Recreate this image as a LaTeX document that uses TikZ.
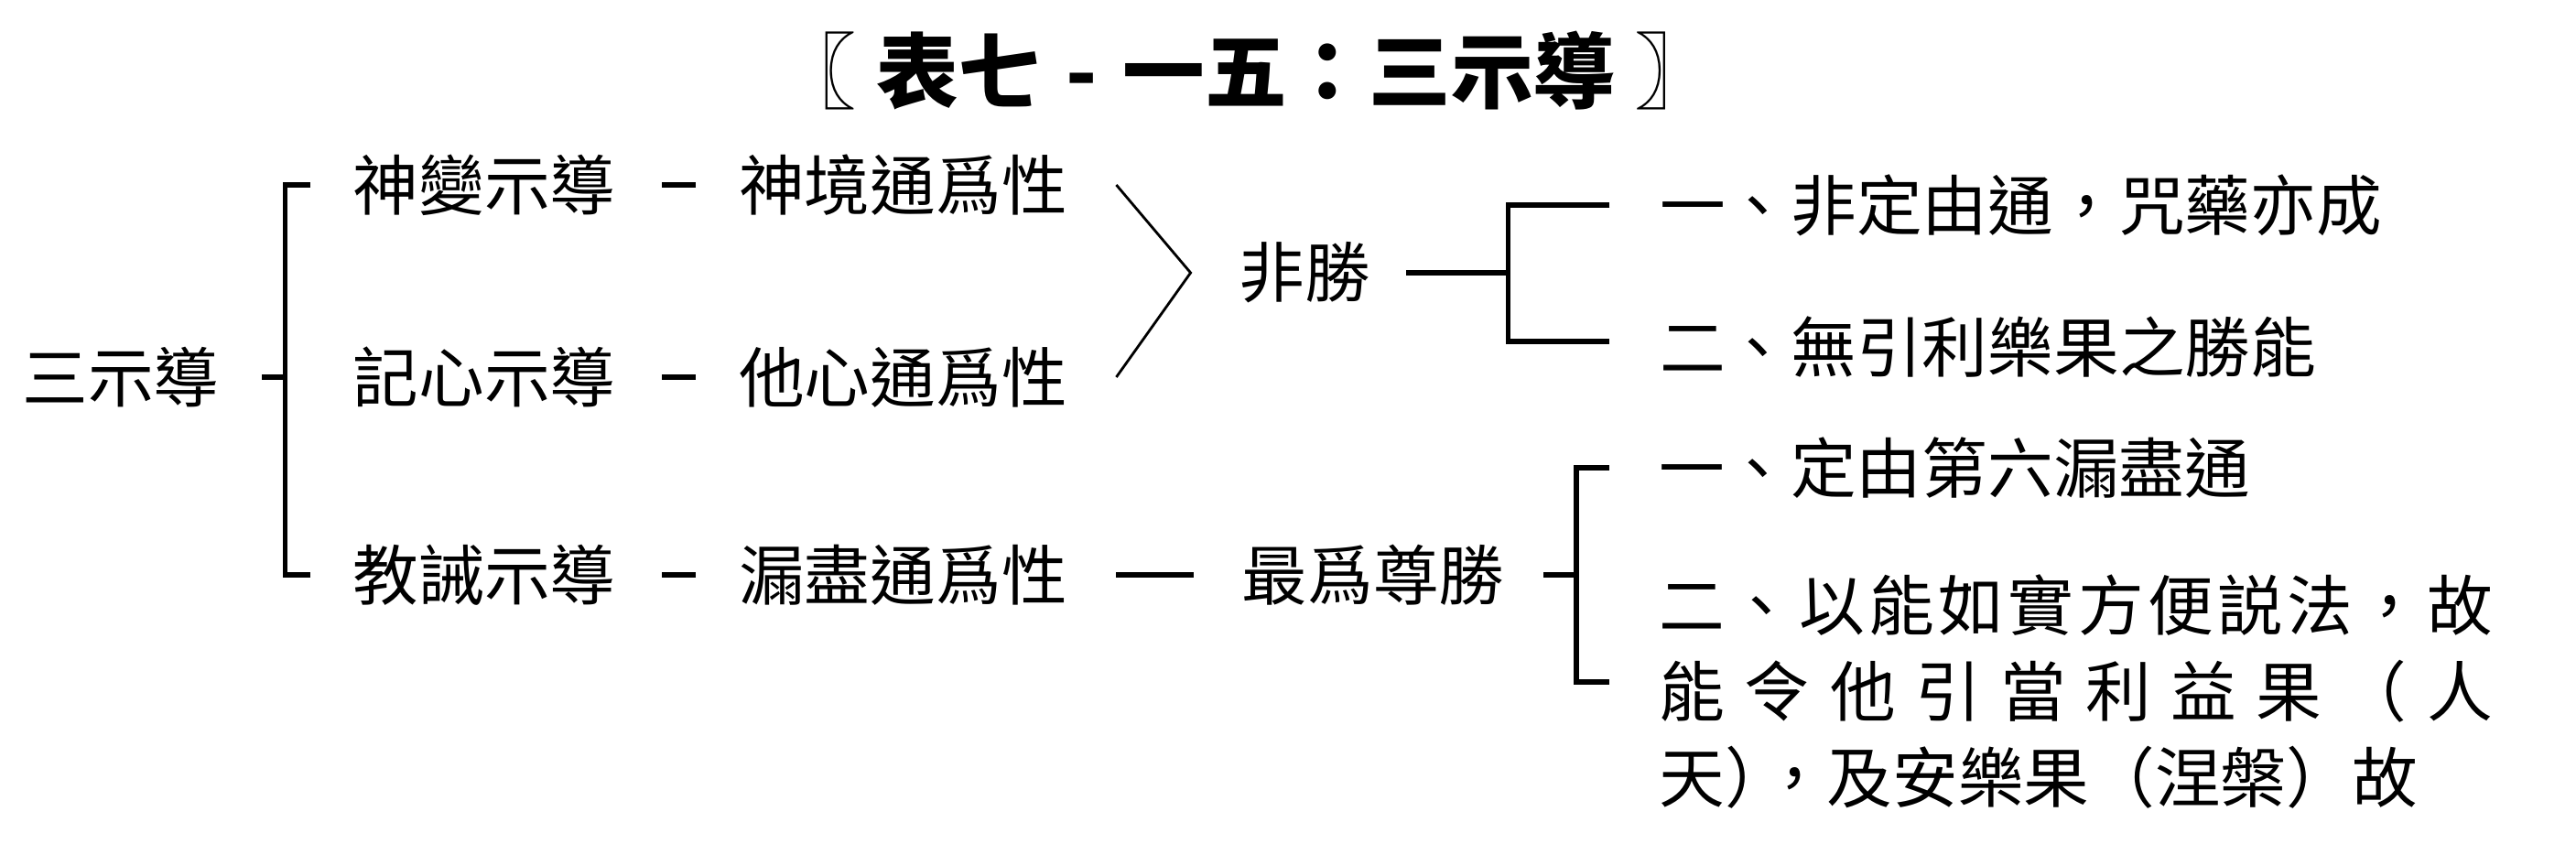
\documentclass[tikz,border=0pt]{standalone}
\usepackage{fontspec}
\setmainfont{Noto Sans CJK TC}
\usetikzlibrary{calc,positioning}
\tikzstyle{item}=[inner sep=0pt, font=\fontsize{20.4}{26.7}\selectfont]
\tikzstyle{head}=[inner sep=0pt, font=\fontsize{25.5}{30}\selectfont\bfseries]
\tikzstyle{bar}=[line width=1.5pt]
\tikzstyle{fork}=[line width=0.8pt]

\begin{document}
\begin{tikzpicture}
\useasboundingbox (0,0) rectangle (281.4mm,-92.2mm);

\node (title) at (136.1mm,-7.7mm) [head] {〖\hspace{0.25em}表七\makebox[1em]{-}一五：三示導\hspace{0.25em}〗};

\node (root) at (13.2mm,-41.2mm) [item] {三示導};
\node (shen) at ([xshift=39.7mm,yshift=21.0mm]root) [item] {神變示導};
\node (ji) at ([xshift=39.7mm]root) [item] {記心示導};
\node (jiao) at ([xshift=39.7mm,yshift=-21.6mm]root) [item] {教誡示導};

\node (shena) at ([xshift=45.75mm]shen) [item] {神境通爲性};
\node (jia) at ([xshift=45.75mm]ji) [item] {他心通爲性};
\node (jiaoa) at ([xshift=45.75mm]jiao) [item] {漏盡通爲性};

\node (fei) at ([xshift=129.3mm,yshift=11.4mm]root) [item] {非勝};
\node (zui) at ([xshift=97.1mm]jiao) [item] {最爲尊勝};

\node (fei1) at ([xshift=31.5mm,yshift=7.4mm]fei.east) [item, right] {一、非定由通，咒藥亦成};
\node (fei2) at ([xshift=31.5mm,yshift=-8.1mm]fei.east) [item, right] {二、無引利樂果之勝能};
\node (zui1) at ([xshift=16.8mm,yshift=11.7mm]zui.east) [item, right] {一、定由第六漏盡通};
\node (zui2) at ([xshift=16.8mm,yshift=0.1mm]zui.east) [item, below right, text width=91mm, align=left]
  {\makebox[\hsize][s]{二\hfil 、\hfil 以\hfil 能\hfil 如\hfil 實\hfil 方\hfil 便\hfil 説\hfil 法\hfil ，\hfil 故}\\
   \makebox[\hsize][s]{能\hfil 令\hfil 他\hfil 引\hfil 當\hfil 利\hfil 益\hfil 果\hfil （\hfil 人}\\
   天\makebox[0.55em][l]{）}，及安樂果（涅槃）故};
\coordinate (zui2arm) at ([xshift=-5.4mm,yshift=-11.8mm]zui2.north west);

% dashes between the two columns
\draw[bar] ([xshift=5mm]shen.east) -- ([xshift=-4.7mm]shena.west);
\draw[bar] ([xshift=5mm]ji.east) -- ([xshift=-4.7mm]jia.west);
\draw[bar] ([xshift=5mm]jiao.east) -- ([xshift=-4.7mm]jiaoa.west);
\draw[fork] ([xshift=5.3mm]shena.east) -- ([xshift=-5.2mm]fei.west) -- ([xshift=5.3mm]jia.east);
\draw[bar] ([xshift=5.3mm]jiaoa.east) -- ([xshift=-5.2mm]zui.west);

% brackets
\coordinate (rootv) at ([xshift=7.1mm]root.east);
\draw[bar] ([xshift=4.6mm]root.east) -- (rootv);
\draw[bar] ([xshift=-4.6mm]shen.west) -| (rootv) |- ([xshift=-4.6mm]jiao.west);

\coordinate (feiv) at ([xshift=15mm]fei.east);
\draw[bar] ([xshift=3.9mm]fei.east) -- (feiv);
\draw[bar] ([xshift=-5.4mm]fei1.west) -| (feiv) |- ([xshift=-5.4mm,yshift=0.6mm]fei2.west);

\coordinate (zuiv) at ([xshift=7.8mm]zui.east);
\draw[bar] ([xshift=4.2mm]zui.east) -- (zuiv);
\draw[bar] ([xshift=-5.4mm]zui1.west) -| (zuiv) |- (zui2arm);

\end{tikzpicture}
\end{document}
